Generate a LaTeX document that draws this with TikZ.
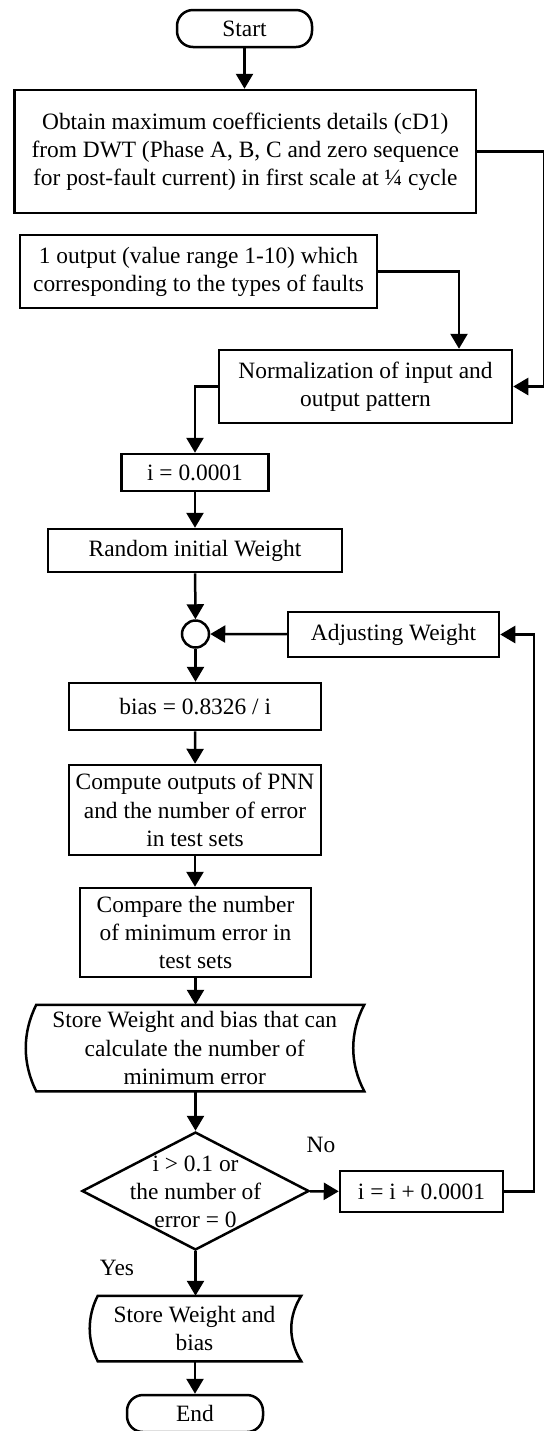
\documentclass[tikz,border=0pt]{standalone}
\usepackage{fontspec}
\setmainfont{Liberation Serif}
\usetikzlibrary{shapes.geometric,arrows.meta}
\begin{document}
\begin{tikzpicture}[x=0.5pt,y=-0.5pt,
  font=\fontsize{11.7}{14.1}\selectfont,
  line width=1.25pt,
  box/.style={draw, rectangle, align=center, inner sep=0pt},
  term/.style={draw, rectangle, rounded corners=8pt, align=center, inner sep=0pt},
  ghost/.style={rectangle, align=center, inner sep=0pt},
  flow/.style={-{Triangle[length=7.5pt,width=8.5pt]}, line join=miter}
]
\useasboundingbox (0,0) rectangle (544,1431);

% process steps
\node[term, minimum width=67.5pt, minimum height=18.5pt] (start) at (244.5,28.5) {Start};
\node[box, minimum width=230.7pt, minimum height=61.5pt] (obtain) at (245.3,151.5)
  {Obtain maximum coefficients details (cD1)\\from DWT (Phase A, B, C and zero sequence\\for post-fault current) in first scale at ¼ cycle};
\node[box, minimum width=178.5pt, minimum height=36.5pt] (outp) at (198.5,271.5)
  {1 output (value range 1-10) which\\corresponding to the types of faults};
\node[box, minimum width=146.5pt, minimum height=36.5pt] (norm) at (365.5,386.5)
  {Normalization of input and\\output pattern};
\node[box, minimum width=73.5pt, minimum height=18.5pt] (iinit) at (195,472.5) {i = 0.0001};
\node[box, minimum width=147pt, minimum height=21.5pt] (rand) at (195,550.5) {Random initial Weight};
\node[draw, circle, minimum size=13.5pt, inner sep=0pt] (junc) at (195.5,634) {};
\node[box, minimum width=105.5pt, minimum height=22.5pt] (adj) at (393.5,634.5) {Adjusting Weight};
\node[box, minimum width=126pt, minimum height=23.5pt] (bias) at (195.2,706.5) {bias = 0.8326 / i};
\node[box, minimum width=126pt, minimum height=45pt] (pnn) at (195,810)
  {Compute outputs of PNN\\and the number of error\\in test sets};
\node[box, minimum width=115.5pt, minimum height=44.5pt] (cmp) at (195.5,932.5)
  {Compare the number\\of minimum error in\\test sets};

% stored-data shapes
\node[ghost, minimum width=157.25pt, minimum height=42pt] (keep) at (194.75,1048)
  {Store Weight and bias that can\\calculate the number of\\minimum error};
\draw (keep.north west) .. controls +(-14,28) and +(-14,-28) .. (keep.south west)
  -- ([xshift=5.5pt]keep.south east) .. controls +(-14.7,-28) and +(-14.7,28) .. ([xshift=5.5pt]keep.north east)
  -- cycle;

\node[draw, diamond, minimum width=113.5pt, minimum height=59pt, inner sep=0pt] (dec) at (195.5,1191) {};
\node[ghost] (dectxt) at (195.5,1192) {i > 0.1 or\\the number of\\error = 0};
\node[box, minimum width=81.5pt, minimum height=20.5pt] (inc) at (421.5,1191.5) {i = i + 0.0001};

\node[ghost, minimum width=95.5pt, minimum height=31.5pt] (keepfinal) at (194.5,1328.5)
  {Store Weight and\\bias};
\draw (keepfinal.north west) .. controls +(-10.7,21) and +(-10.7,-21) .. (keepfinal.south west)
  -- ([xshift=5pt]keepfinal.south east) .. controls +(-13.3,-21) and +(-13.3,21) .. ([xshift=5pt]keepfinal.north east)
  -- cycle;

\node[term, minimum width=68pt, minimum height=18.5pt] (stop) at (195,1413.5) {End};

\node (no) at (321,1145) {No};
\node (yes) at (117,1268) {Yes};

% connectors
\coordinate (rtop) at (544.2,151.5);
\coordinate (rmid) at (459,271.5);
\coordinate (rlow) at (534,1191.5);

\draw[flow] (start.south) -- (start.south |- obtain.north);
\draw[flow] (obtain.east) -- (rtop) |- (norm.east);
\draw[flow] (outp.east) -- (rmid) -- (rmid |- norm.north);
\draw[flow] (norm.west) -| (iinit.north);
\draw[flow] (iinit) -- (rand);
\draw[flow] (rand) -- (junc);
\draw[flow] (junc) -- (junc |- bias.north);
\draw[flow] (adj) -- (junc);
\draw[flow] (bias) -- (pnn);
\draw[flow] (pnn) -- (pnn |- cmp.north);
\draw[flow] (cmp) -- (cmp |- keep.north);
\draw[flow] (dec.north |- keep.south) -- (dec.north);
\draw[flow] (dec) -- (inc);
\draw[flow] (inc.east) -- (rlow) |- (adj.east);
\draw[flow] (dec.south) -- (dec.south |- keepfinal.north);
\draw[flow] (stop.north |- keepfinal.south) -- (stop.north);
\end{tikzpicture}
\end{document}
